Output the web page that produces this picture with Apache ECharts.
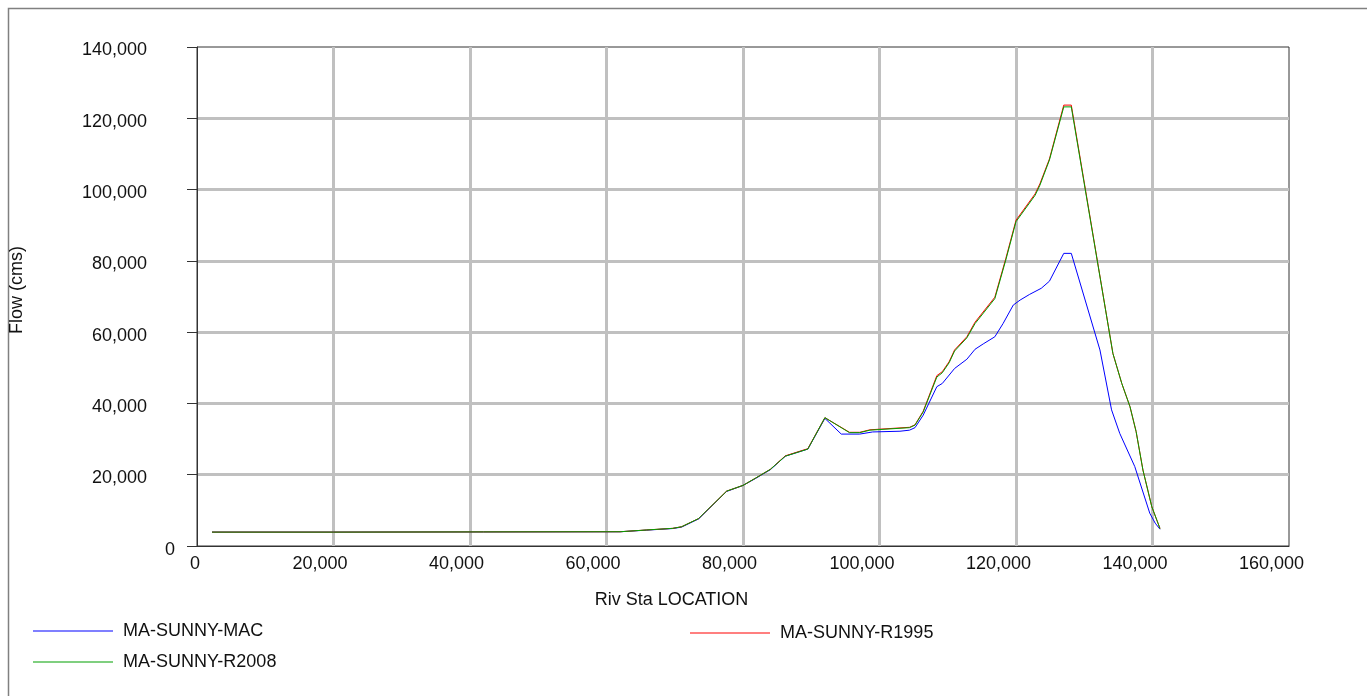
<!DOCTYPE html>
<html>
<head>
<meta charset="utf-8">
<script src="https://cdn.jsdelivr.net/npm/echarts@6/dist/echarts.min.js"></script>
<style>
  html, body { margin: 0; padding: 0; background: #fff; }
  #chart { width: 1367px; height: 696px; }
</style>
</head>
<body>
<div id="chart"></div>
<script>
// River station (x) and flow in cms (y) for each run
const stationsMAC = [2200, 20000, 42000, 62000, 65900, 69700, 71000, 73500, 77600, 80000, 81800, 84000, 86200, 89500, 92000, 94400, 97100, 99000, 103000, 104400, 105200, 106400, 108400, 109200, 111000, 112800, 114000, 115200, 116900, 118100, 119600, 120600, 122000, 123700, 124900, 127000, 128100, 132300, 134000, 135200, 137400, 139600, 140400, 141100];
const flowMAC = [3900, 3900, 3950, 4000, 4450, 4900, 5300, 7600, 15300, 17000, 18900, 21400, 25200, 27200, 35800, 31400, 31400, 32000, 32200, 32500, 33200, 36700, 44700, 45600, 49800, 52400, 55200, 56700, 58700, 62400, 67600, 69000, 70600, 72300, 74300, 82100, 82100, 55000, 38200, 31600, 22300, 9200, 6400, 4700];

const stationsR1995 = [2200, 20000, 42000, 62000, 65900, 69700, 71000, 73500, 77600, 80000, 81800, 84000, 86200, 89500, 92000, 95600, 97100, 98600, 104400, 105200, 106400, 108400, 109200, 110200, 111000, 112800, 114000, 116900, 118500, 120000, 122800, 123500, 124900, 127000, 128100, 134200, 135500, 136700, 137600, 138600, 139900, 141100];
const flowR1995 = [3900, 3900, 3950, 4000, 4500, 4950, 5400, 7700, 15400, 17000, 19000, 21500, 25300, 27300, 36000, 31900, 31900, 32600, 33300, 34000, 37800, 47800, 48900, 51700, 55000, 58700, 62800, 69800, 80600, 91400, 98800, 101600, 108600, 123700, 123700, 54000, 45600, 39100, 32100, 21300, 11000, 4900];

const stationsR2008 = [2200, 20000, 42000, 62000, 65900, 69700, 71000, 73500, 77600, 80000, 81800, 84000, 86200, 89500, 92000, 95600, 97100, 98600, 104400, 105200, 106400, 108400, 109200, 110200, 111000, 112800, 114000, 116900, 118500, 120000, 122800, 123500, 124900, 127000, 128100, 134200, 135500, 136700, 137600, 138600, 139900, 141100];
const flowR2008 = [3900, 3900, 3950, 4000, 4500, 4950, 5400, 7700, 15400, 17000, 19000, 21500, 25200, 27200, 36000, 31800, 31800, 32500, 33200, 33900, 37600, 47400, 48600, 51400, 54700, 58400, 62400, 69400, 80200, 91000, 98400, 101200, 108300, 123200, 123200, 54000, 45600, 39100, 32100, 21300, 11000, 4900];

const seriesNames = ['MA-SUNNY-MAC', 'MA-SUNNY-R1995', 'MA-SUNNY-R2008'];
const seriesColors = ['#0000ff', '#ff0000', '#00a000'];

const xTicks = { min: 0, max: 160000, step: 20000 };
const yTicks = { min: 0, max: 140000, step: 20000 };

const pair = (xs, ys) => xs.map((x, i) => [x, ys[i]]);
const withCommas = v => String(v).replace(/\B(?=(\d{3})+(?!\d))/g, ',');

const FONT = '"Liberation Sans", Arial, sans-serif';
const GRID_GRAY = '#c0c0c0';
const AXIS_DARK = '#333';

const chart = echarts.init(document.getElementById('chart'), null, { renderer: 'canvas' });

// one legend block per run, laid out as two columns under the plot
const legendBase = {
  orient: 'horizontal',
  padding: 0,
  icon: 'rect',
  itemWidth: 80,
  itemHeight: 1,
  itemGap: 0,
  textStyle: { fontFamily: FONT, fontSize: 18, color: '#111', padding: [0, 0, 0, 5] }
};

chart.setOption({
  backgroundColor: '#fff',
  animation: false,
  textStyle: { fontFamily: FONT },
  graphic: [{
    type: 'rect',
    silent: true,
    shape: { x: 8.5, y: 8.5, width: 1500, height: 800 },
    style: { fill: 'none', stroke: '#808080', lineWidth: 1.5 }
  }],
  grid: {
    left: 197, top: 47, width: 1092, height: 499,
    show: true, borderColor: AXIS_DARK, borderWidth: 1, backgroundColor: '#fff'
  },
  legend: [
    Object.assign({}, legendBase, { data: [seriesNames[0]], left: 33, top: 622 }),
    Object.assign({}, legendBase, { data: [seriesNames[1]], left: 690, top: 624 }),
    Object.assign({}, legendBase, { data: [seriesNames[2]], left: 33, top: 653 })
  ],
  xAxis: {
    type: 'value',
    min: xTicks.min, max: xTicks.max, interval: xTicks.step,
    name: 'Riv Sta LOCATION',
    nameLocation: 'middle',
    nameGap: 45,
    nameTextStyle: { fontFamily: FONT, fontSize: 18, color: '#111', padding: [0, 143, 0, 0] },
    axisLine: { show: true, lineStyle: { color: AXIS_DARK, width: 1 } },
    axisTick: { show: false },
    splitLine: { show: true, showMinLine: false, showMaxLine: false, lineStyle: { color: GRID_GRAY, width: 3 } },
    axisLabel: {
      margin: 9,
      fontFamily: FONT, fontSize: 18, color: '#111',
      formatter: v => v === 0 ? '{z|0}' : (v >= 100000 ? '{b|' + withCommas(v) + '}' : '{a|' + withCommas(v) + '}'),
      rich: {
        z: { fontFamily: FONT, fontSize: 18, color: '#111', padding: [0, 4, 0, 0] },
        a: { fontFamily: FONT, fontSize: 18, color: '#111', padding: [0, 27, 0, 0] },
        b: { fontFamily: FONT, fontSize: 18, color: '#111', padding: [0, 35, 0, 0] }
      }
    }
  },
  yAxis: {
    type: 'value',
    min: yTicks.min, max: yTicks.max, interval: yTicks.step,
    name: 'Flow (cms)',
    nameLocation: 'middle',
    nameGap: 171,
    nameRotate: 90,
    nameTextStyle: { fontFamily: FONT, fontSize: 18, color: '#111', padding: [0, 0, 0, 13] },
    axisLine: { show: true, lineStyle: { color: AXIS_DARK, width: 1 } },
    axisTick: { show: true, inside: false, length: 10, lineStyle: { color: AXIS_DARK, width: 1 } },
    splitLine: { show: true, showMinLine: false, showMaxLine: false, lineStyle: { color: GRID_GRAY, width: 3 } },
    axisLabel: {
      margin: 22,
      fontFamily: FONT, fontSize: 18, color: '#111',
      formatter: v => v === 0 ? '{z|0}' : '{n|' + withCommas(v) + '}',
      rich: {
        z: { fontFamily: FONT, fontSize: 18, color: '#111', padding: [8, 0, 0, 0] },
        n: { fontFamily: FONT, fontSize: 18, color: '#111', padding: [7, 28, 0, 0] }
      }
    }
  },
  series: [
    { name: seriesNames[0], data: pair(stationsMAC, flowMAC) },
    { name: seriesNames[1], data: pair(stationsR1995, flowR1995) },
    { name: seriesNames[2], data: pair(stationsR2008, flowR2008) }
  ].map((s, i) => Object.assign({
    type: 'line',
    symbol: 'none',
    smooth: false,
    color: seriesColors[i],
    itemStyle: { color: seriesColors[i] },
    lineStyle: { color: seriesColors[i], width: 1 }
  }, s))
});
</script>
</body>
</html>
